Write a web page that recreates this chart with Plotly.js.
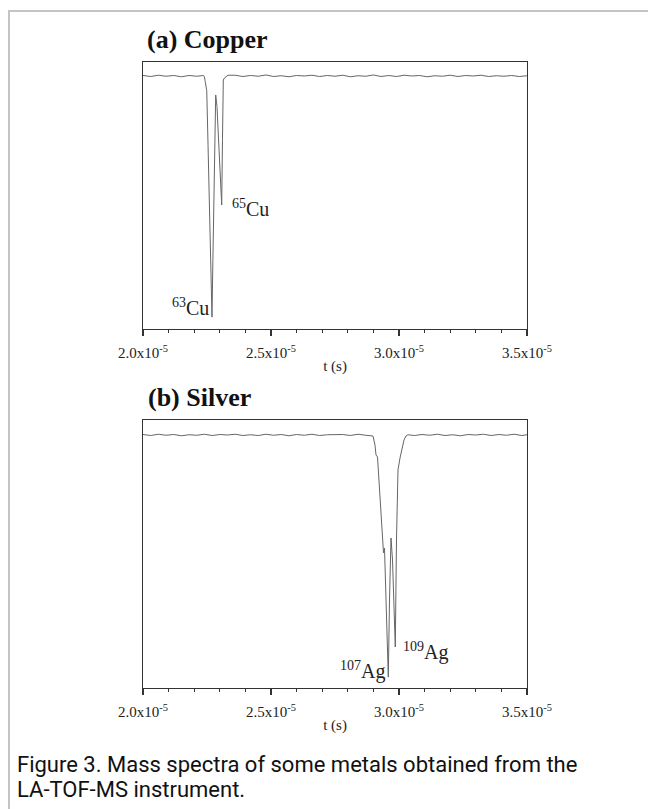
<!DOCTYPE html>
<html>
<head>
<meta charset="utf-8">
<script src="https://cdn.plot.ly/plotly-3.0.1.min.js"></script>
<style>
  html, body { margin: 0; padding: 0; background: #ffffff; }
  #wrap { position: relative; width: 648px; height: 809px; overflow: hidden; }
  #frame { position: absolute; left: 8px; top: 10px; width: 700px; height: 900px;
           border-left: 2px solid #c4c4c4; border-top: 2px solid #c4c4c4; z-index: 2; pointer-events: none; }
  #chart { position: absolute; left: 0; top: 0; width: 648px; height: 809px; z-index: 1; }
  #caption { position: absolute; left: 17px; top: 752px; width: 625px; z-index: 3;
             font-family: Roboto, "Noto Sans", sans-serif; font-size: 22px; line-height: 25px; color: #111; }
</style>
</head>
<body>
<div id="wrap">
  <div id="chart"></div>
  <div id="frame"></div>
  <div id="caption">Figure 3. Mass spectra of some metals obtained from the<br>LA-TOF-MS instrument.</div>
</div>
<script>
// Time in units of 10^-5 s
const cuTime = [2.00,2.03,2.06,2.09,2.12,2.15,2.18,2.21,
  2.236,2.240,2.243,2.246,2.249,2.254,2.262,2.2695,2.273,2.277,2.281,2.284,2.289,2.296,2.302,2.3074,2.3105,2.3137,2.318,2.322,2.326,2.332,
  2.36,2.39,2.42,2.45,2.48,2.51,2.54,2.57,2.60,2.63,2.66,2.69,2.72,2.75,2.78,2.81,2.84,2.87,2.90,2.93,2.96,2.99,
  3.02,3.05,3.08,3.11,3.14,3.17,3.20,3.23,3.26,3.29,3.32,3.35,3.38,3.41,3.44,3.47,3.50];
// Signal (arbitrary units, baseline 0, negative-going peaks)
const cuSignal = [0.002,-0.002,0.003,-0.001,0.002,-0.003,0.002,-0.001,
  0.002,-0.004,-0.022,-0.040,-0.058,-0.270,-0.610,-0.953,-0.730,-0.480,-0.240,-0.075,-0.120,-0.250,-0.390,-0.510,-0.250,-0.016,-0.008,-0.004,0.001,0.003,
  0.003,-0.002,0.002,-0.001,0.004,-0.002,0.001,-0.003,0.002,0.000,0.003,-0.002,0.002,-0.001,0.003,-0.003,0.001,-0.001,0.004,-0.002,0.002,-0.002,
  0.003,0.000,0.002,-0.003,0.001,-0.001,0.003,-0.002,0.002,0.000,0.003,-0.002,0.001,-0.001,0.002,-0.002,0.001];

const agTime = [2.00,2.03,2.06,2.09,2.12,2.15,2.18,2.21,2.24,2.27,2.30,2.33,2.36,2.39,2.42,2.45,2.48,2.51,2.54,2.57,2.60,2.63,2.66,2.69,2.72,2.75,2.78,2.81,2.84,2.87,
  2.8984,2.9063,2.9102,2.9160,2.9258,2.9363,2.9395,2.9434,2.9473,2.9582,2.9629,2.9688,2.9746,2.9855,2.9902,2.9961,3.0039,3.0098,3.0137,3.0195,3.0273,
  3.035,3.06,3.09,3.12,3.15,3.18,3.21,3.24,3.27,3.30,3.33,3.36,3.39,3.42,3.45,3.48,3.50];
const agSignal = [0.002,-0.002,0.003,-0.001,0.002,-0.003,0.001,-0.001,0.003,-0.002,
  0.002,0.000,0.003,-0.002,0.001,-0.002,0.003,-0.001,0.002,-0.003,
  0.002,-0.001,0.003,-0.002,0.001,0.000,0.002,-0.002,0.003,-0.001,
  -0.004,-0.040,-0.079,-0.087,-0.257,-0.447,-0.466,-0.447,-0.573,-0.957,-0.652,-0.407,-0.494,-0.838,-0.415,-0.138,-0.091,-0.067,-0.040,-0.020,-0.004,
  0.001,-0.002,0.002,-0.001,0.003,-0.002,0.001,-0.003,0.002,0.000,0.003,-0.002,0.002,-0.001,0.003,-0.002,0.001];

const panelTitles = ['(a) Copper', '(b) Silver'];
const xTitle = 't (s)';
const cuLabels = ['<sup>63</sup>Cu', '<sup>65</sup>Cu'];
const cuWindows = [[2.25, 2.28], [2.295, 2.31]];
const agLabels = ['<sup>107</sup>Ag', '<sup>109</sup>Ag'];
const agWindows = [[2.95, 2.965], [2.98, 2.99]];

function minIn(t, v, lo, hi) {
  let best = null;
  for (let i = 0; i < t.length; i++) {
    if (t[i] >= lo && t[i] <= hi && (best === null || v[i] < best.v)) best = {t: t[i], v: v[i]};
  }
  return best;
}

const W = 648, H = 809;
const px = x => x / W;
const py = y => 1 - y / H;

const serif = 'Liberation Serif, Times New Roman, serif';
const lineCol = '#666666';
const axCol = '#333333';

const traces = [
  {x: cuTime, y: cuSignal, xaxis: 'x', yaxis: 'y', type: 'scatter', mode: 'lines',
   line: {color: lineCol, width: 1}, hoverinfo: 'skip'},
  {x: agTime, y: agSignal, xaxis: 'x2', yaxis: 'y2', type: 'scatter', mode: 'lines',
   line: {color: lineCol, width: 1}, hoverinfo: 'skip'}
];

function xAxis(domain, anchor) {
  return {
    domain: domain, anchor: anchor, range: [2.0, 3.5],
    tickmode: 'linear', tick0: 2.0, dtick: 0.5, tickformat: '.1f',
    ticksuffix: 'x10<sup>-5</sup>',
    ticks: 'outside', ticklen: 6, tickwidth: 1.2, tickcolor: axCol,
    ticklabelstandoff: 4,
    minor: {tickmode: 'linear', tick0: 2.0, dtick: 0.1, ticks: 'outside', ticklen: 3, tickwidth: 1, tickcolor: axCol, showgrid: false},
    showline: true, linecolor: axCol, linewidth: 1.4, mirror: true,
    showgrid: false, zeroline: false,
    tickfont: {family: serif, size: 15, color: '#222'},
    title: {text: xTitle, font: {family: serif, size: 15, color: '#222'}, standoff: 0},
    fixedrange: true
  };
}
function yAxis(domain, anchor, range) {
  return {
    domain: domain, anchor: anchor, range: range,
    showticklabels: false, ticks: '', showgrid: false, zeroline: false,
    showline: true, linecolor: axCol, linewidth: 1.4, mirror: true, fixedrange: true
  };
}

const annotations = [
  {xref: 'paper', yref: 'paper', x: px(145), y: py(39.5), xanchor: 'left', yanchor: 'middle',
   text: '<b>' + panelTitles[0] + '</b>', showarrow: false, font: {family: serif, size: 26, color: '#111'}},
  {xref: 'paper', yref: 'paper', x: px(146), y: py(397.5), xanchor: 'left', yanchor: 'middle',
   text: '<b>' + panelTitles[1] + '</b>', showarrow: false, font: {family: serif, size: 26, color: '#111'}}
];

const labFont = {family: serif, size: 20, color: '#222'};
const c63 = minIn(cuTime, cuSignal, cuWindows[0][0], cuWindows[0][1]);
const c65 = minIn(cuTime, cuSignal, cuWindows[1][0], cuWindows[1][1]);
const a107 = minIn(agTime, agSignal, agWindows[0][0], agWindows[0][1]);
const a109 = minIn(agTime, agSignal, agWindows[1][0], agWindows[1][1]);
annotations.push(
  {xref: 'x', yref: 'y', x: c63.t, y: c63.v, xanchor: 'right', yanchor: 'middle', xshift: -1, yshift: 10,
   text: cuLabels[0], showarrow: false, font: labFont},
  {xref: 'x', yref: 'y', x: c65.t, y: c65.v, xanchor: 'left', yanchor: 'middle', xshift: 8, yshift: -3,
   text: cuLabels[1], showarrow: false, font: labFont},
  {xref: 'x2', yref: 'y2', x: a107.t, y: a107.v, xanchor: 'right', yanchor: 'middle', xshift: -1, yshift: 7,
   text: agLabels[0], showarrow: false, font: labFont},
  {xref: 'x2', yref: 'y2', x: a109.t, y: a109.v, xanchor: 'left', yanchor: 'middle', xshift: 6, yshift: -4,
   text: agLabels[1], showarrow: false, font: labFont}
);

const layout = {
  width: W, height: H,
  margin: {l: 0, r: 0, t: 0, b: 0, pad: 0},
  paper_bgcolor: 'rgba(0,0,0,0)', plot_bgcolor: '#ffffff',
  showlegend: false,
  xaxis: xAxis([px(143), px(527)], 'y'),
  yaxis: yAxis([py(329), py(62)], 'x', [-1, 0.0553]),
  xaxis2: xAxis([px(143), px(527)], 'y2'),
  yaxis2: yAxis([py(688), py(420)], 'x2', [-1, 0.0593]),
  annotations: annotations
};

Plotly.newPlot('chart', traces, layout, {staticPlot: true, displayModeBar: false});
</script>
</body>
</html>
